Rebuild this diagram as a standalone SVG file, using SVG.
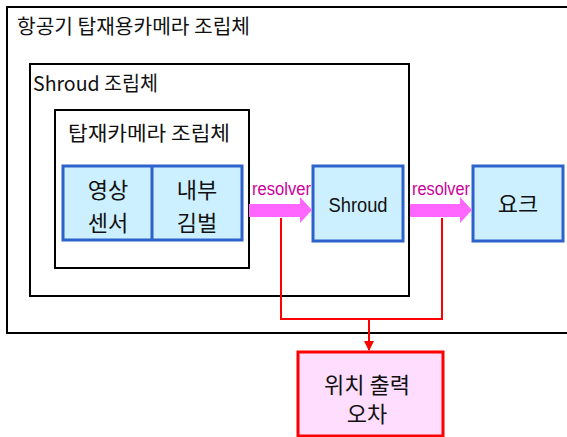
<svg xmlns="http://www.w3.org/2000/svg" width="567" height="437" viewBox="0 0 567 437">
<style>
text{font-family:"Noto Sans CJK KR","Liberation Sans",sans-serif;fill:#111}
.frame{fill:#fff;stroke:#000;stroke-width:2}
.blue{fill:#ccf0ff;stroke:#2d62cc;stroke-width:3}
.t19{font-size:20px}
.t21{font-size:22px;text-anchor:middle}
.res{font-family:"Liberation Sans",sans-serif;font-size:18px;fill:#cc0099}
.red{fill:none;stroke:#ff0000;stroke-width:2}
.bigarrow{fill:#ff66ff}
</style>
<defs>
<marker id="ah" markerWidth="10" markerHeight="10" refX="9" refY="5" orient="auto" markerUnits="userSpaceOnUse">
<path d="M0,0 L10,5 L0,10 z" fill="#ff0000"/>
</marker>
</defs>
<g id="outer">
<rect class="frame" x="7" y="7" width="580" height="326"/>
<text class="t19" x="17" y="34" textLength="233" lengthAdjust="spacingAndGlyphs">항공기 탑재용카메라 조립체</text>
</g>
<g id="shroud-assy">
<rect class="frame" x="30" y="64" width="379" height="232"/>
<text class="t19" x="33" y="91" textLength="125" lengthAdjust="spacingAndGlyphs">Shroud 조립체</text>
</g>
<g id="camera-assy">
<rect class="frame" x="55" y="110" width="194" height="158"/>
<text class="t19" x="68" y="141" textLength="162" lengthAdjust="spacingAndGlyphs">탑재카메라 조립체</text>
</g>
<g id="sensor-gimbal">
<rect class="blue" x="63" y="166" width="179" height="74"/>
<line x1="152" y1="166" x2="152" y2="240" stroke="#2d62cc" stroke-width="3"/>
<text class="t21" x="108" y="198">영상</text>
<text class="t21" x="108" y="231">센서</text>
<text class="t21" x="197" y="198">내부</text>
<text class="t21" x="197" y="231">김벌</text>
</g>
<g id="shroud">
<rect class="blue" x="313" y="166" width="90" height="75"/>
<text x="358" y="212" style="font-family:'Liberation Sans',sans-serif;font-size:20px;text-anchor:middle" textLength="59" lengthAdjust="spacingAndGlyphs">Shroud</text>
</g>
<g id="yoke">
<rect class="blue" x="473" y="166" width="90" height="75"/>
<text class="t21" x="518" y="212">요크</text>
</g>
<g id="error">
<rect x="298" y="352" width="145" height="84" fill="#ffddff" stroke="#ff0000" stroke-width="3"/>
<text class="t21" x="367" y="393">위치 출력</text>
<text class="t21" x="367" y="422">오차</text>
</g>
<g id="connectors">
<path class="bigarrow" d="M249,204 H300 V197 L312,210 L300,223 V217 H249 z"/>
<path class="bigarrow" d="M410,204 H460 V197 L472,210 L460,223 V217 H410 z"/>
<text class="res" x="252" y="195" textLength="59" lengthAdjust="spacingAndGlyphs">resolver</text>
<text class="res" x="412" y="195" textLength="58" lengthAdjust="spacingAndGlyphs">resolver</text>
<polyline class="red" points="281,218 281,319 442,319 442,218"/>
<line class="red" x1="369" y1="319" x2="369" y2="350" marker-end="url(#ah)"/>
</g>
</svg>
